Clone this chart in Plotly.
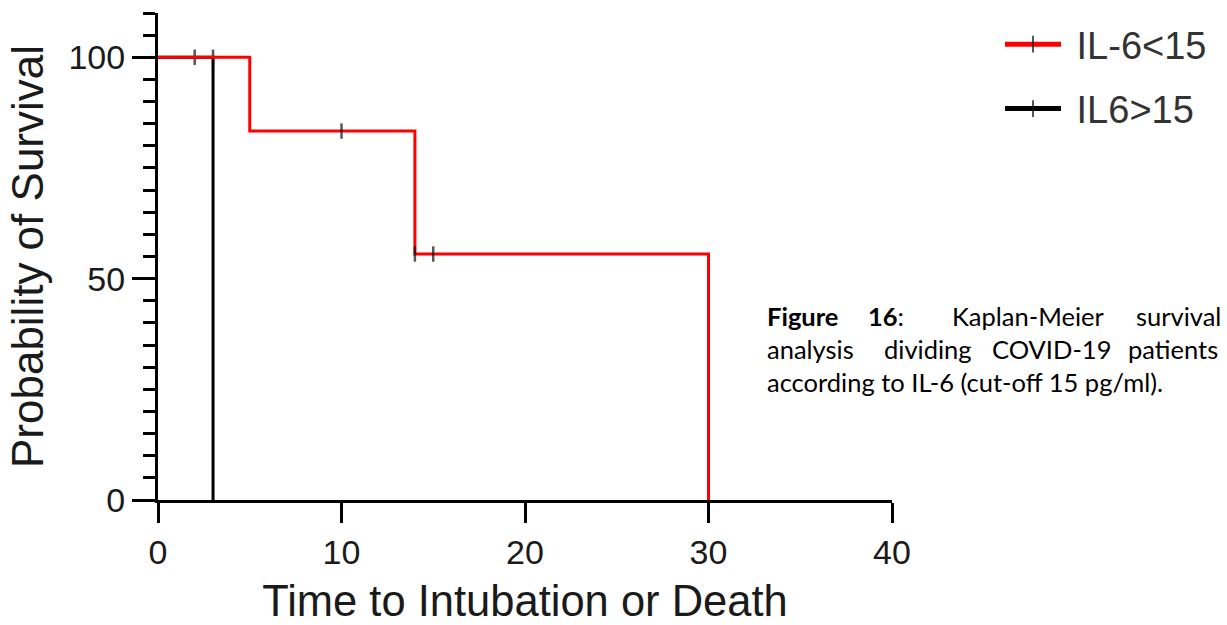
import plotly.graph_objects as go

# Kaplan-Meier step data (time in days, survival in %)
low_time = [0, 5, 10, 14, 14, 15, 30]
low_surv = [100, 83.33, 83.33, 55.56, 55.56, 55.56, 0]
low_censored = [False, False, True, False, True, True, False]

high_time = [0, 2, 3, 3]
high_surv = [100, 100, 100, 0]
high_censored = [False, True, True, False]

series_names = ["IL-6<15", "IL6>15"]
series_colors = ["#ff0000", "#000000"]

x_ticks = [0, 10, 20, 30, 40]
y_ticks = [0, 50, 100]

# justified caption, one annotation per word on the spread-out lines
caption_line1 = [("<b>Figure</b>", 765), ("<b>16</b>:", 866), ("Kaplan-Meier", 950), ("survival", 1134)]
caption_line2 = [("analysis", 765), ("dividing", 882), ("COVID-19", 990), ("patients", 1126)]
caption_line3 = "according to IL-6 (cut-off 15 pg/ml)."

AXIS_FONT = "Liberation Sans, Arial, sans-serif"
CAPTION_FONT = "Lato, Carlito, sans-serif"

W, H = 1227, 625
ML, MR, MT, MB = 158, 335, 13, 125

fig = go.Figure()


def censor_sizes(flags):
    return [11 if f else 0 for f in flags]


# black group first so the red curve sits on top of it
fig.add_trace(go.Scatter(
    x=high_time, y=high_surv, name="\u00a0" + series_names[1], mode="lines+markers",
    line=dict(shape="hv", color=series_colors[1], width=3),
    marker=dict(symbol="line-ns", size=censor_sizes(high_censored),
                color="black", line=dict(color="#111", width=2.5)),
    legendrank=2, legendgroup="b",
))
fig.add_trace(go.Scatter(
    x=low_time, y=low_surv, name="\u00a0" + series_names[0], mode="lines+markers",
    line=dict(shape="hv", color=series_colors[0], width=3),
    marker=dict(symbol="line-ns", size=censor_sizes(low_censored),
                color="black", line=dict(color="#111", width=2.5)),
    legendrank=1, legendgroup="a",
))

annotations = []
for text, px in caption_line1:
    annotations.append(dict(text=text, x=px, y=316))
for text, px in caption_line2:
    annotations.append(dict(text=text, x=px, y=349))
annotations.append(dict(text=caption_line3, x=765, y=382))

ann = []
for a in annotations:
    ann.append(dict(
        text=a["text"], xref="paper", yref="paper",
        x=(a["x"] - ML) / (W - ML - MR), y=(H - MB - a["y"]) / (H - MT - MB),
        xanchor="left", yanchor="middle", showarrow=False,
        font=dict(family=CAPTION_FONT, size=25.5, color="#000"),
    ))

fig.update_layout(
    width=W, height=H,
    margin=dict(l=ML, r=MR, t=MT, b=MB, pad=0, autoexpand=False),
    paper_bgcolor="white", plot_bgcolor="white",
    showlegend=True,
    legend=dict(
        x=(1000 - ML) / (W - ML - MR), y=1.0, xanchor="left", yanchor="top",
        font=dict(family=AXIS_FONT, size=38, color="#333"),
        traceorder="grouped", tracegroupgap=12, itemsizing="constant",
        itemwidth=56, bgcolor="rgba(0,0,0,0)",
    ),
    xaxis=dict(
        range=[0, 40], tickvals=x_ticks, showgrid=False, zeroline=False,
        showline=True, linecolor="black", linewidth=3,
        ticks="outside", ticklen=20, tickwidth=3, tickcolor="black",
        tickfont=dict(family=AXIS_FONT, size=34, color="#1a1a1a"),
        title=dict(text="Time to Intubation or Death",
                   font=dict(family=AXIS_FONT, size=43.5, color="#1a1a1a"), standoff=22),
    ),
    yaxis=dict(
        range=[0, 110], tickvals=y_ticks, showgrid=False, zeroline=False,
        showline=True, linecolor="black", linewidth=3,
        ticks="outside", ticklen=23, tickwidth=3, tickcolor="black",
        minor=dict(ticks="outside", ticklen=12, tickwidth=3, tickcolor="black",
                   dtick=5, tick0=0),
        tickfont=dict(family=AXIS_FONT, size=34, color="#1a1a1a"),
        title=dict(text="Probability of Survival",
                   font=dict(family=AXIS_FONT, size=44, color="#1a1a1a"), standoff=12),
    ),
    annotations=ann,
)

fig.write_html("out.html")
